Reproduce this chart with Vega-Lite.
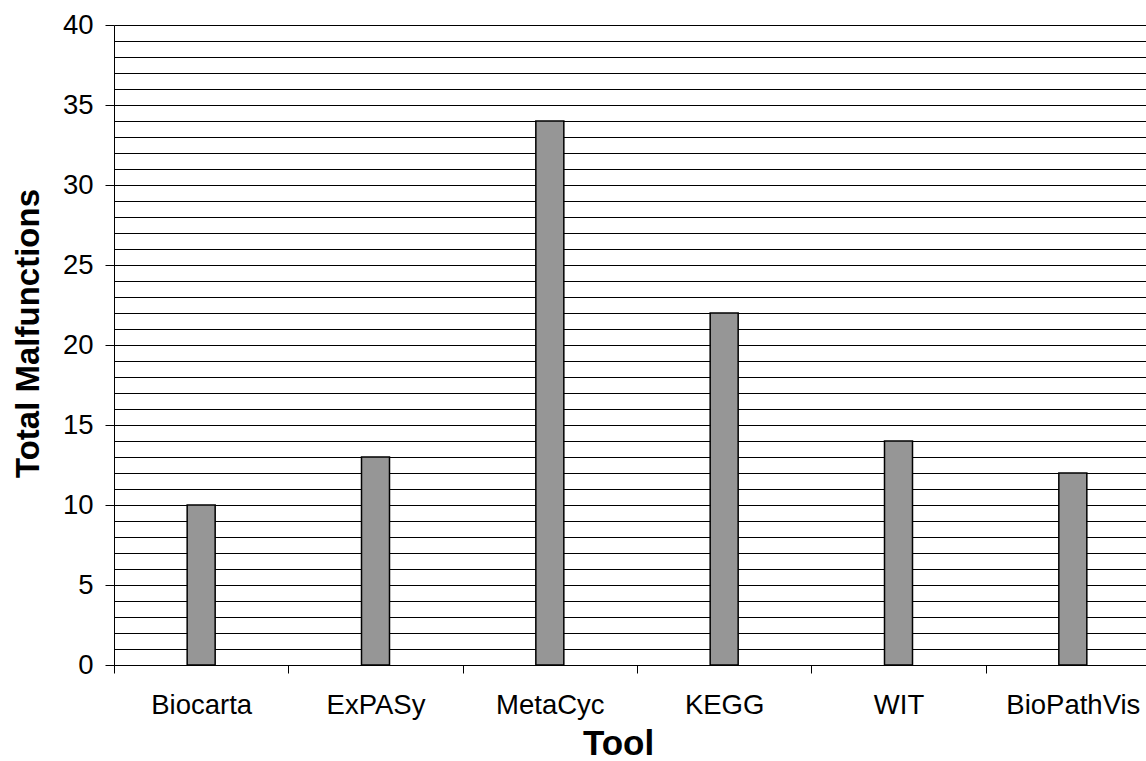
{
  "$schema": "https://vega.github.io/schema/vega-lite/v6.json",
  "autosize": {"type": "none"},
  "padding": {"left": 114, "top": 25, "right": 0, "bottom": 96},
  "width": 1032,
  "height": 640,
  "background": "white",
  "config": {
    "view": {"stroke": null},
    "font": "Liberation Sans",
    "axis": {
      "labelFont": "Liberation Sans",
      "titleFont": "Liberation Sans",
      "labelColor": "#000",
      "titleColor": "#000",
      "domainColor": "#000",
      "tickColor": "#000",
      "gridColor": "#000",
      "domainWidth": 1,
      "tickWidth": 1,
      "gridWidth": 1
    }
  },
  "data": {
    "values": [
      {"tool": "Biocarta", "malfunctions": 10},
      {"tool": "ExPASy", "malfunctions": 13},
      {"tool": "MetaCyc", "malfunctions": 34},
      {"tool": "KEGG", "malfunctions": 22},
      {"tool": "WIT", "malfunctions": 14},
      {"tool": "BioPathVis", "malfunctions": 12}
    ]
  },
  "mark": {"type": "bar", "width": 28, "fill": "#969696", "stroke": "#000", "strokeWidth": 1.5},
  "encoding": {
    "x": {
      "field": "tool",
      "type": "nominal",
      "sort": null,
      "scale": {"paddingInner": 0, "paddingOuter": 0, "range": [0, 1046]},
      "axis": {
        "title": "Tool",
        "titleFontSize": 35,
        "titleFontWeight": "bold",
        "titleX": 504,
        "titleY": 89,
        "titleAlign": "center",
        "titleBaseline": "alphabetic",
        "labelAngle": 0,
        "labelFontSize": 27.5,
        "labelBaseline": "alphabetic",
        "labelPadding": 40,
        "tickBand": "extent",
        "tickSize": 8,
        "grid": false
      }
    },
    "y": {
      "field": "malfunctions",
      "type": "quantitative",
      "scale": {"domain": [0, 40], "nice": false},
      "axis": {
        "title": "Total Malfunctions",
        "titleFontSize": 33,
        "titleFontWeight": "bold",
        "titleAngle": -90,
        "titleX": -76,
        "titleY": 308,
        "titleAlign": "center",
        "titleBaseline": "alphabetic",
        "values": [0,1,2,3,4,5,6,7,8,9,10,11,12,13,14,15,16,17,18,19,20,21,22,23,24,25,26,27,28,29,30,31,32,33,34,35,36,37,38,39,40],
        "labelExpr": "datum.value % 5 === 0 ? datum.label : ''",
        "labelFontSize": 27.5,
        "labelPadding": 12,
        "tickSize": 9,
        "tickOpacity": {"condition": {"test": "datum.value % 5 === 0", "value": 1}, "value": 0},
        "grid": true
      }
    }
  }
}
